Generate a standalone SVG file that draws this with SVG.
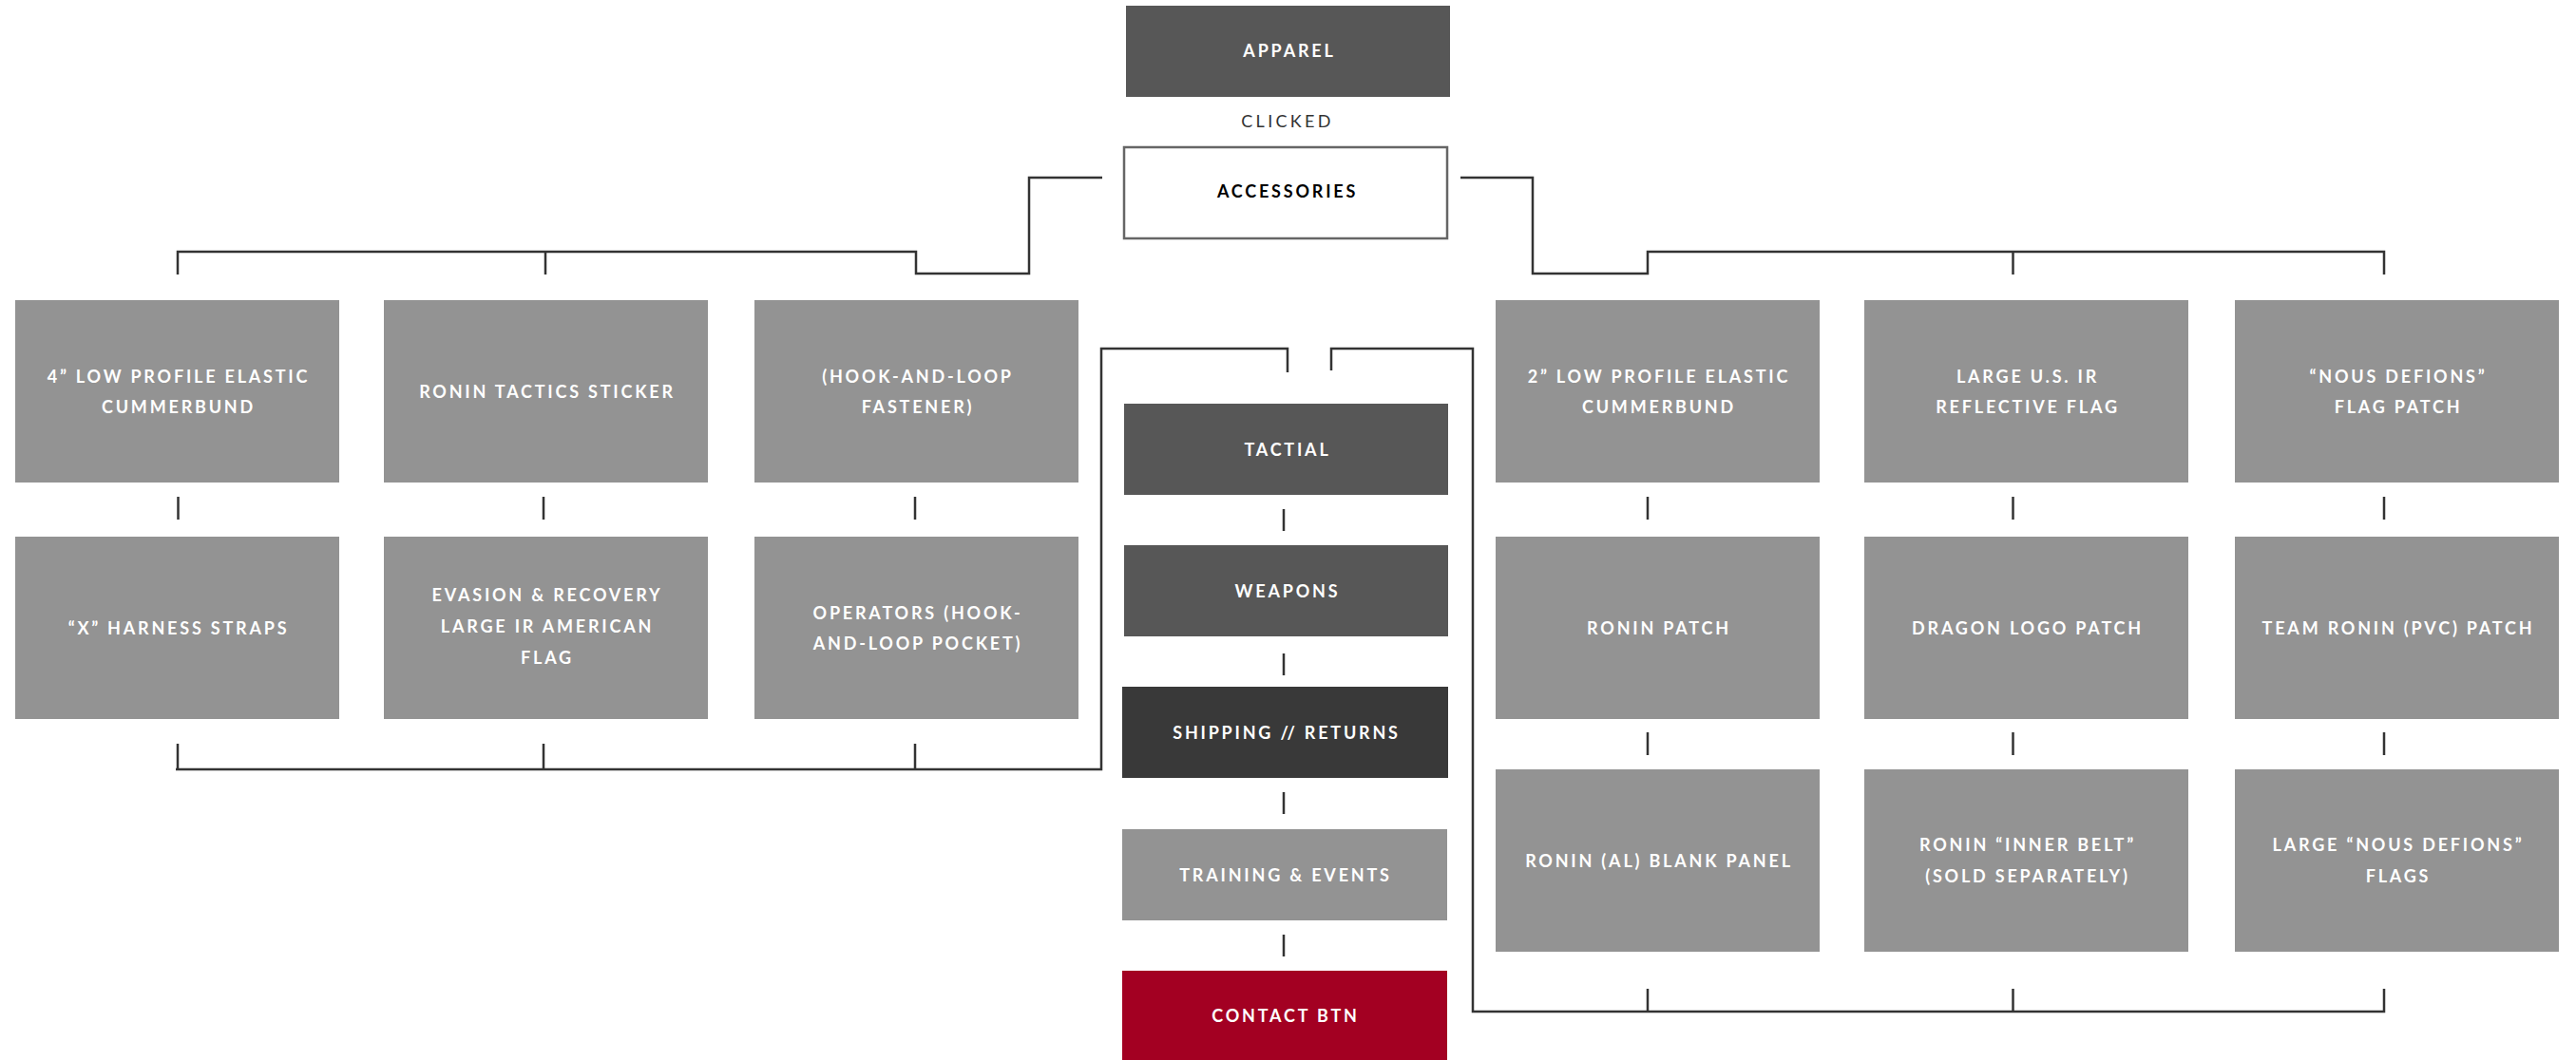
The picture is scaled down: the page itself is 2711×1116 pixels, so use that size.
<svg xmlns="http://www.w3.org/2000/svg" width="2711" height="1116" viewBox="0 0 2711 1116">
<style>
.g{fill:#939393}
.d{fill:#575757}
.s{fill:#393939}
.r{fill:#a30022}
.t{font-family:Lato,"Open Sans",sans-serif;font-weight:700;font-size:18px;letter-spacing:2.8px;fill:#fff;text-anchor:middle}
.k{fill:#000}
.c{font-family:Lato,"Open Sans",sans-serif;font-weight:400;font-size:18px;letter-spacing:3.3px;fill:#333;text-anchor:middle}
.ln{fill:none;stroke:#333;stroke-width:2.5}
</style>
<rect width="2711" height="1116" fill="#fff"/>
<g id="apparel"><rect class="d" x="1185" y="6" width="341" height="96"/><text class="t" x="1357" y="60">APPAREL</text></g>
<text class="c" x="1355" y="134">CLICKED</text>
<g id="accessories"><rect x="1183" y="155" width="340" height="96" fill="#fff" stroke="#666" stroke-width="2.5"/><text class="t k" x="1355" y="208">ACCESSORIES</text></g>

<g id="connectors" class="ln">
<path d="M1160,187 H1083 V288 H964 V265 H187 V289 M574,265 V289"/>
<path d="M1537,187 H1613 V288 H1734 V265 H2509 V289 M2118.5,265 V289"/>
<path d="M187.5,523 V547 M572,523 V547 M963,523 V547"/>
<path d="M187,783 V810 M572,783 V810 M963,783 V810 M185,810 H1159 V367 H1355 V392"/>
<path d="M1401,390 V367 H1550 V1065 H2509 V1041 M1734,1041 V1065 M2118.5,1041 V1065"/>
<path d="M1734,523 V547 M2118.5,523 V547 M2509,523 V547 M1734,771 V795 M2118.5,771 V795 M2509,771 V795"/>
<path d="M1351,536 V559 M1351,688 V711 M1351,834 V857 M1351,984 V1007"/>
</g>

<g id="n-4in"><rect class="g" x="16" y="316" width="341" height="192"/><text class="t" x="188" y="403">4” LOW PROFILE ELASTIC</text><text class="t" x="188" y="435">CUMMERBUND</text></g>
<g id="n-sticker"><rect class="g" x="404" y="316" width="341" height="192"/><text class="t" x="576" y="419">RONIN TACTICS STICKER</text></g>
<g id="n-fastener"><rect class="g" x="794" y="316" width="341" height="192"/><text class="t" x="966" y="403">(HOOK-AND-LOOP</text><text class="t" x="966" y="435">FASTENER)</text></g>

<g id="n-harness"><rect class="g" x="16" y="565" width="341" height="192"/><text class="t" x="188" y="668">“X” HARNESS STRAPS</text></g>
<g id="n-evasion"><rect class="g" x="404" y="565" width="341" height="192"/><text class="t" x="576" y="633">EVASION &amp; RECOVERY</text><text class="t" x="576" y="666">LARGE IR AMERICAN</text><text class="t" x="576" y="699">FLAG</text></g>
<g id="n-operators"><rect class="g" x="794" y="565" width="341" height="192"/><text class="t" x="966" y="652">OPERATORS (HOOK-</text><text class="t" x="966" y="684">AND-LOOP POCKET)</text></g>

<g id="n-tactial"><rect class="d" x="1183" y="425" width="341" height="96"/><text class="t" x="1355" y="480">TACTIAL</text></g>
<g id="n-weapons"><rect class="d" x="1183" y="574" width="341" height="96"/><text class="t" x="1355" y="629">WEAPONS</text></g>
<g id="n-shipping"><rect class="s" x="1181" y="723" width="343" height="96"/><text class="t" x="1354" y="778">SHIPPING // RETURNS</text></g>
<g id="n-training"><rect class="g" x="1181" y="873" width="342" height="96"/><text class="t" x="1353" y="928">TRAINING &amp; EVENTS</text></g>
<g id="n-contact"><rect class="r" x="1181" y="1022" width="342" height="94"/><text class="t" x="1353" y="1076">CONTACT BTN</text></g>

<g id="n-2in"><rect class="g" x="1574" y="316" width="341" height="192"/><text class="t" x="1746" y="403">2” LOW PROFILE ELASTIC</text><text class="t" x="1746" y="435">CUMMERBUND</text></g>
<g id="n-usflag"><rect class="g" x="1962" y="316" width="341" height="192"/><text class="t" x="2134" y="403">LARGE U.S. IR</text><text class="t" x="2134" y="435">REFLECTIVE FLAG</text></g>
<g id="n-nous"><rect class="g" x="2352" y="316" width="341" height="192"/><text class="t" x="2524" y="403">“NOUS DEFIONS”</text><text class="t" x="2524" y="435">FLAG PATCH</text></g>

<g id="n-roninpatch"><rect class="g" x="1574" y="565" width="341" height="192"/><text class="t" x="1746" y="668">RONIN PATCH</text></g>
<g id="n-dragon"><rect class="g" x="1962" y="565" width="341" height="192"/><text class="t" x="2134" y="668">DRAGON LOGO PATCH</text></g>
<g id="n-team"><rect class="g" x="2352" y="565" width="341" height="192"/><text class="t" x="2524" y="668">TEAM RONIN (PVC) PATCH</text></g>

<g id="n-blank"><rect class="g" x="1574" y="810" width="341" height="192"/><text class="t" x="1746" y="913">RONIN (AL) BLANK PANEL</text></g>
<g id="n-belt"><rect class="g" x="1962" y="810" width="341" height="192"/><text class="t" x="2134" y="896">RONIN “INNER BELT”</text><text class="t" x="2134" y="929">(SOLD SEPARATELY)</text></g>
<g id="n-flags"><rect class="g" x="2352" y="810" width="341" height="192"/><text class="t" x="2524" y="896">LARGE “NOUS DEFIONS”</text><text class="t" x="2524" y="929">FLAGS</text></g>
</svg>
